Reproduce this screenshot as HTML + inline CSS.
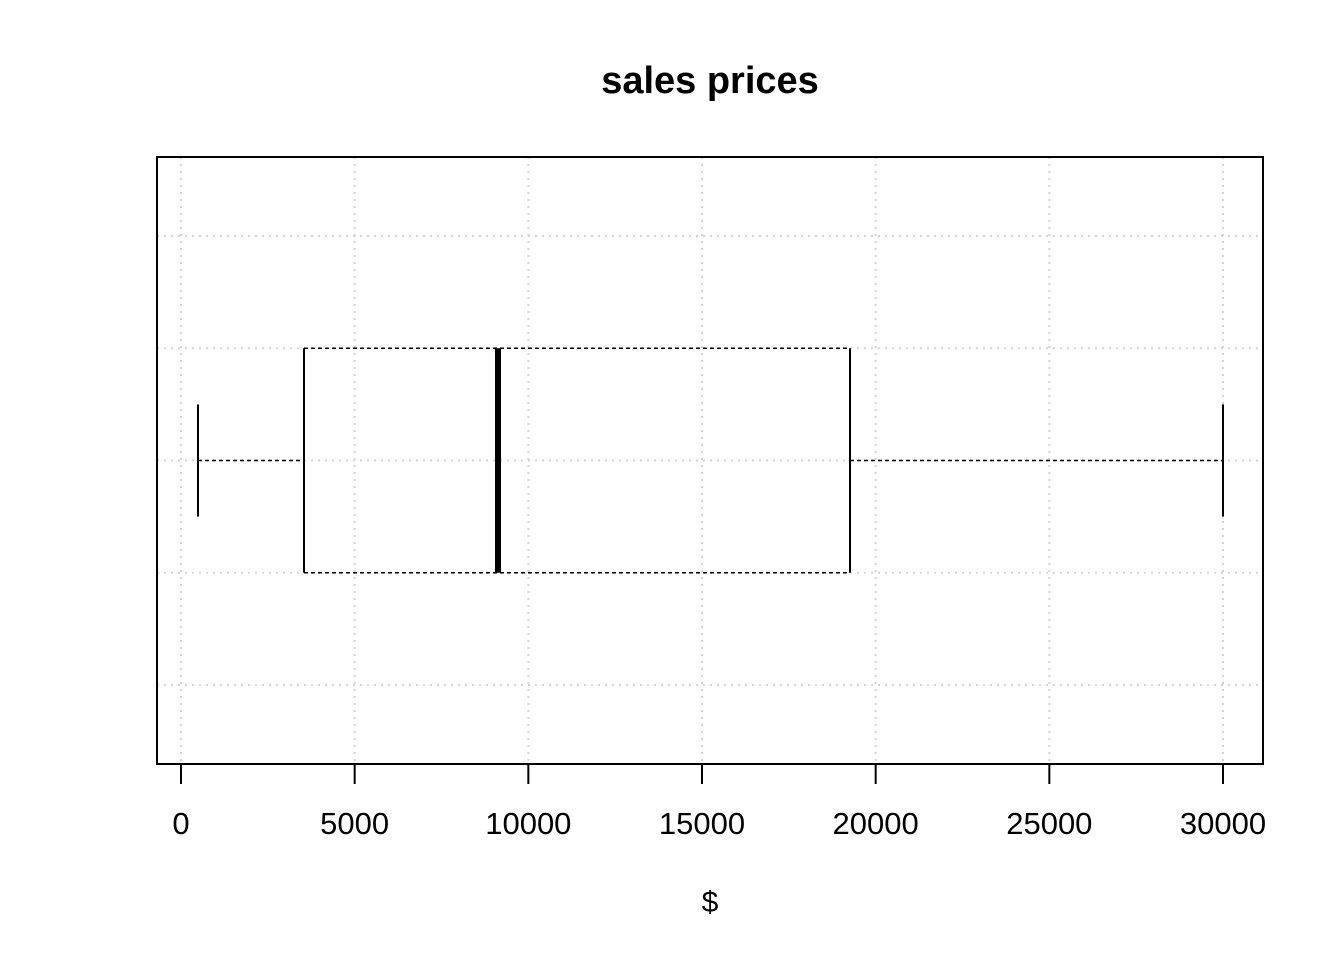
<!DOCTYPE html>
<html><head><meta charset="utf-8"><style>
html,body{margin:0;padding:0;background:#fff;}
svg{display:block;font-family:"Liberation Sans",Arial,sans-serif;}
</style></head><body>
<svg id="chart" width="1344" height="960" viewBox="0 0 1344 960" xmlns="http://www.w3.org/2000/svg">
<text x="710" y="93" text-anchor="middle" font-size="38" font-weight="bold">sales prices</text>
<text x="710" y="912" text-anchor="middle" font-size="30">$</text>
<g id="grid"></g>
<g id="box"></g>
<g id="axis"></g>
<rect x="157" y="157" width="1106" height="607" fill="none" stroke="#000" stroke-width="2"/>
</svg>
<script>
const stats = [489, 3541, 9127, 19261, 30000]; // min, q1, median, q3, max
const xTicks = [0, 5000, 10000, 15000, 20000, 25000, 30000];
const xTickLabels = ["0","5000","10000","15000","20000","25000","30000"];
const yGrid = [0.6, 0.8, 1.0, 1.2, 1.4];

{
const NS = "http://www.w3.org/2000/svg";
const X = v => 181 + v * (1042 / 30000);
const Y = v => 460.5 - (v - 1) * 561.25;
function mk(parent, tag, attrs) {
  const e = document.createElementNS(NS, tag);
  for (const k in attrs) e.setAttribute(k, attrs[k]);
  document.getElementById(parent).appendChild(e);
  return e;
}
xTicks.forEach(t => {
  const l = mk('grid', 'line', {x1: X(t), x2: X(t), y1: 157, y2: 764, stroke: '#d3d3d3', 'stroke-width': 2, 'stroke-dasharray': '2,5'});
  
  
});
yGrid.forEach(t => {
  const l = mk('grid', 'line', {x1: 157, x2: 1263, y1: Y(t), y2: Y(t), stroke: '#d3d3d3', 'stroke-width': 2, 'stroke-dasharray': '2,5'});
  
  
});
const [mn, q1, md, q3, mx] = stats;
const boxTop = Y(1.2), boxBot = Y(0.8), capTop = Y(1.1), capBot = Y(0.9), midY = Y(1.0);
const dash = {stroke: '#000', 'stroke-width': 1.5, 'stroke-dasharray': '4,3', fill: 'none'};
let e;
e = mk('box', 'line', Object.assign({x1: X(mn), x2: X(q1), y1: midY, y2: midY}, dash));


e = mk('box', 'line', Object.assign({x1: X(q3), x2: X(mx), y1: midY, y2: midY}, dash));


e = mk('box', 'line', Object.assign({x1: X(q1), x2: X(q3), y1: boxTop, y2: boxTop}, dash));


e = mk('box', 'line', Object.assign({x1: X(q1), x2: X(q3), y1: boxBot, y2: boxBot}, dash));


[[q1, 'box-left'], [q3, 'box-right']].forEach(([v, n]) => {
  const l = mk('box', 'line', {x1: X(v), x2: X(v), y1: boxTop, y2: boxBot, stroke: '#000', 'stroke-width': 2});
  
  
});
[[mn, 'min-cap'], [mx, 'max-cap']].forEach(([v, n]) => {
  const l = mk('box', 'line', {x1: X(v), x2: X(v), y1: capTop, y2: capBot, stroke: '#000', 'stroke-width': 2});
  
  
});
e = mk('box', 'line', {x1: X(md), x2: X(md), y1: boxTop, y2: boxBot, stroke: '#000', 'stroke-width': 6});


xTicks.forEach((t, i) => {
  const l = mk('axis', 'line', {x1: X(t), x2: X(t), y1: 764, y2: 784, stroke: '#000', 'stroke-width': 2});
  
  
  const tx = mk('axis', 'text', {x: X(t), y: 834, 'text-anchor': 'middle', 'font-size': 31});
  tx.textContent = xTickLabels[i];
  
  
});
e = mk('axis', 'line', {x1: X(xTicks[0]), x2: X(xTicks[xTicks.length - 1]), y1: 764, y2: 764, stroke: '#000', 'stroke-width': 2});


}
</script>
</body></html>
